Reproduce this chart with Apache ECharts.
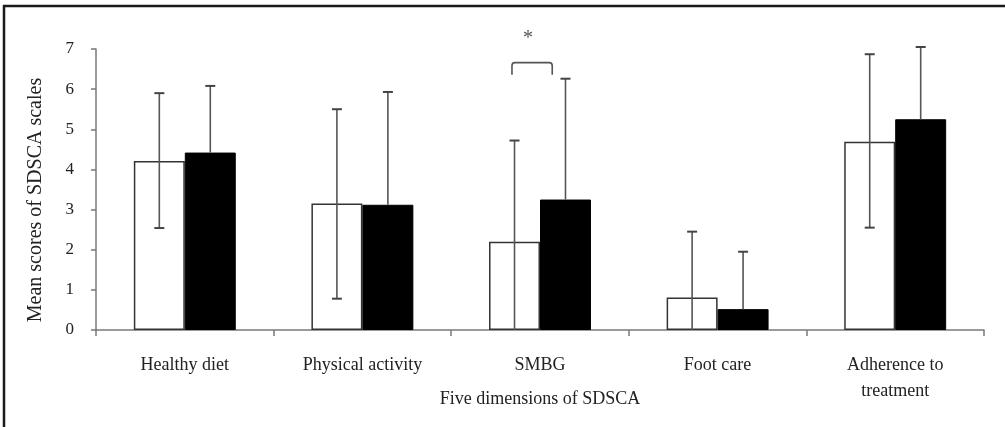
<!DOCTYPE html>
<html>
<head>
<meta charset="utf-8">
<script src="https://cdn.jsdelivr.net/npm/echarts@6/dist/echarts.min.js"></script>
<style>
  html, body { margin: 0; padding: 0; background: #fff; }
  #chart { width: 1005px; height: 427px; }
</style>
</head>
<body>
<div id="chart"></div>
<script>
// ---- data ----
const categories = ['Healthy diet', 'Physical activity', 'SMBG', 'Foot care', 'Adherence to\ntreatment'];
const whiteMeans = [4.21, 3.15, 2.20, 0.81, 4.69];
const blackMeans = [4.42, 3.12, 3.25, 0.52, 5.25];
const whiteErrUpper = [5.90, 5.50, 4.72, 2.45, 6.87];
const whiteErrLower = [2.54, 0.78, 0.00, 0.00, 2.55];
const whiteLowerCap = [1, 1, 0, 0, 1];
const blackErrUpper = [6.08, 5.93, 6.26, 1.95, 7.05];
const yMin = 0, yMax = 7, yStep = 1;
const sigCategoryIndex = 2;
const sigBracketTop = 6.66;
const sigBracketLeg = 6.36;
const sigStarY = 7.35;
const sigLabel = '*';

const FONT = '"Liberation Serif", "Times New Roman", serif';
const BAR_FRAC = 0.287;

const errData = [];
categories.forEach((c, i) => {
  errData.push([i, whiteErrLower[i], whiteErrUpper[i], -1, whiteLowerCap[i]]);
  errData.push([i, blackMeans[i], blackErrUpper[i], 1, 0]);
});

const chart = echarts.init(document.getElementById('chart'), null, { renderer: 'canvas' });

chart.setOption({
  animation: false,
  backgroundColor: '#fff',
  grid: { left: 96, right: 21, top: 49, bottom: 97, containLabel: false, outerBoundsMode: 'none' },
  xAxis: {
    type: 'category',
    data: categories,
    name: 'Five dimensions of SDSCA',
    nameLocation: 'middle',
    nameGap: 60,
    nameMoveOverlap: false,
    nameTextStyle: { fontFamily: FONT, fontSize: 18, color: '#222' },
    axisLine: { lineStyle: { color: '#7a7a7a', width: 1.5 } },
    axisTick: { show: true, length: 6, lineStyle: { color: '#7a7a7a', width: 1.5 } },
    axisLabel: { fontFamily: FONT, fontSize: 18, color: '#222', margin: 22, lineHeight: 26, interval: 0 },
    splitLine: { show: false }
  },
  yAxis: {
    type: 'value',
    min: yMin, max: yMax, interval: yStep,
    axisLine: { show: true, lineStyle: { color: '#7a7a7a', width: 1.5 } },
    axisTick: { show: true, length: 5, lineStyle: { color: '#7a7a7a', width: 1.5 } },
    axisLabel: { fontFamily: FONT, fontSize: 17, color: '#222', margin: 22 },
    splitLine: { show: false }
  },
  graphic: [
    { type: 'line', shape: { x1: 3, y1: 6, x2: 1005, y2: 6 }, style: { stroke: '#1a1a1a', lineWidth: 2.5 }, silent: true },
    { type: 'line', shape: { x1: 4, y1: 5, x2: 4, y2: 427 }, style: { stroke: '#1a1a1a', lineWidth: 2.5 }, silent: true },
    { type: 'text', x: 36, y: 200, rotation: Math.PI / 2,
      style: { text: 'Mean scores of SDSCA scales', fontFamily: FONT, fontSize: 20, fill: '#222', align: 'center', verticalAlign: 'middle' }, silent: true }
  ],
  series: [
    {
      type: 'bar', name: 'white', data: whiteMeans,
      barWidth: (BAR_FRAC * 100) + '%', barGap: '0%',
      itemStyle: { color: '#ffffff', borderColor: '#333', borderWidth: 1.5 },
      z: 2
    },
    {
      type: 'bar', name: 'black', data: blackMeans,
      barWidth: (BAR_FRAC * 100) + '%', barGap: '0%',
      itemStyle: { color: '#000000', borderColor: '#000', borderWidth: 1 },
      z: 2
    },
    {
      type: 'custom', name: 'err', data: errData, z: 5,
      encode: { x: 0, y: [1, 2] },
      renderItem: function (params, api) {
        const i = api.value(0), lo = api.value(1), hi = api.value(2), side = api.value(3), lowCap = api.value(4);
        const catW = api.size([1, 0])[0];
        const bw = catW * BAR_FRAC;
        const top = api.coord([i, hi]);
        const x = top[0] + side * bw / 2;
        const yHi = top[1];
        const yLo = api.coord([i, lo])[1];
        const st = { stroke: '#555', lineWidth: 1.6 };
        const children = [
          { type: 'line', shape: { x1: x, y1: yLo, x2: x, y2: yHi }, style: st },
          { type: 'line', shape: { x1: x - 5, y1: yHi, x2: x + 5, y2: yHi }, style: { stroke: '#444', lineWidth: 2 } }
        ];
        if (lowCap) children.push({ type: 'line', shape: { x1: x - 5, y1: yLo, x2: x + 5, y2: yLo }, style: { stroke: '#444', lineWidth: 2 } });
        return { type: 'group', children: children };
      }
    },
    {
      type: 'custom', name: 'sig', data: [[sigCategoryIndex, sigBracketTop, sigBracketLeg, sigStarY]], z: 6,
      encode: { x: 0, y: [1, 3] },
      clip: false,
      renderItem: function (params, api) {
        const i = api.value(0);
        const catW = api.size([1, 0])[0];
        const bw = catW * BAR_FRAC;
        const c = api.coord([i, api.value(1)]);
        const yTop = c[1];
        const yLeg = api.coord([i, api.value(2)])[1];
        const yStar = api.coord([i, api.value(3)])[1];
        const xL = c[0] - 0.55 * bw, xR = c[0] + 0.24 * bw;
        const r = 3;
        const path = 'M' + xL + ' ' + yLeg + ' L' + xL + ' ' + (yTop + r) + ' Q' + xL + ' ' + yTop + ' ' + (xL + r) + ' ' + yTop +
          ' L' + (xR - r) + ' ' + yTop + ' Q' + xR + ' ' + yTop + ' ' + xR + ' ' + (yTop + r) + ' L' + xR + ' ' + yLeg;
        return {
          type: 'group',
          children: [
            { type: 'path', shape: { pathData: path }, style: { stroke: '#555', lineWidth: 1.6, fill: null } },
            { type: 'text', x: (xL + xR) / 2 - 4, y: yStar + 4,
              style: { text: sigLabel, fontFamily: FONT, fontSize: 20, fill: '#555', align: 'center', verticalAlign: 'middle' } }
          ]
        };
      }
    }
  ]
});
</script>
</body>
</html>
